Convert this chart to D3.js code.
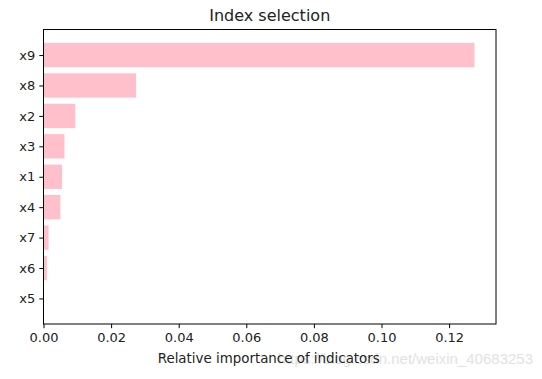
<!DOCTYPE html>
<html><head><meta charset="utf-8">
<script src="https://cdn.jsdelivr.net/npm/d3@7"></script>
<style>body{margin:0;background:#fff}svg{display:block}</style>
</head><body>
<svg id="c" width="542" height="379"></svg>
<script>
const categories = ["x9","x8","x2","x3","x1","x4","x7","x6","x5"];
const values = [0.1275, 0.0274, 0.0094, 0.0062, 0.0055, 0.0050, 0.0015, 0.0010, 0.0001];
const xTicks = [0, 0.02, 0.04, 0.06, 0.08, 0.10, 0.12];
const titleText = "Index selection";
const xLabelText = "Relative importance of indicators";
const watermark = "https://blog.csdn.net/weixin_40683253";

const svg = d3.select("#c");
const L = 43.5, R = 496, T = 29.5, B = 324;
const maxV = d3.max(values);
const x = d3.scaleLinear().domain([0, maxV * 1.05]).range([L, R]);
const n = categories.length;
// matplotlib-style: first category at top, positions n-1 .. 0
const y = d3.scaleLinear().domain([n - 1 + 0.84, -0.84]).range([T, B]);
const posOf = c => n - 1 - categories.indexOf(c);
const bh = y(0) - y(0.8);

svg.append("g").selectAll("rect").data(categories).join("rect")
  .attr("x", x(0))
  .attr("y", c => y(posOf(c) + 0.4))
  .attr("height", bh)
  .attr("width", (c, i) => x(values[i]) - x(0))
  .attr("fill", "#FFC0CB");

const font = "DejaVu Sans, sans-serif";
const xAxis = svg.append("g").attr("transform", `translate(0,${B})`)
  .call(d3.axisBottom(x).tickValues(xTicks).tickFormat(d3.format(".2f")).tickSize(4.2).tickPadding(5));
const yAxis = svg.append("g").attr("transform", `translate(${L},0)`)
  .call(d3.axisLeft(y).tickValues(categories.map(posOf)).tickFormat(v => categories[n - 1 - v]).tickSize(4.2).tickPadding(4));
[xAxis, yAxis].forEach(g => {
  g.select(".domain").remove();
  g.selectAll("line").attr("stroke", "#000").attr("stroke-width", 1);
  g.selectAll("text").attr("font-family", font).attr("font-size", 13).attr("fill", "#222");
});

svg.append("rect").attr("x", L).attr("y", T).attr("width", R - L).attr("height", B - T)
  .attr("fill", "none").attr("stroke", "#000").attr("stroke-width", 1);

svg.append("text").attr("x", (L + R) / 2).attr("y", 21).attr("text-anchor", "middle")
  .attr("font-family", font).attr("font-size", 16).attr("fill", "#222").text(titleText);
svg.append("text").attr("x", 533).attr("y", 364).attr("text-anchor", "end")
  .attr("font-family", "Liberation Sans, Arial, sans-serif").attr("font-size", 15).attr("fill", "#e2e2e2").text(watermark);
svg.append("text").attr("x", (L + R) / 2 - 1).attr("y", 363).attr("text-anchor", "middle")
  .attr("font-family", font).attr("font-size", 13.4).attr("fill", "#222").text(xLabelText);
</script>
</body></html>
